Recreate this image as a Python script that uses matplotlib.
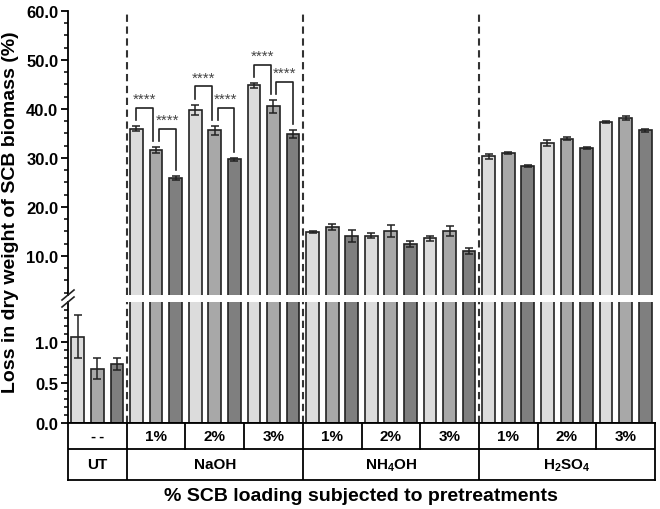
import matplotlib.pyplot as plt
from matplotlib.lines import Line2D
import numpy as np

plt.rcParams['font.family'] = ['Liberation Sans', 'DejaVu Sans']
plt.rcParams['font.weight'] = 'bold'
plt.rcParams['mathtext.fontset'] = 'custom'
plt.rcParams['mathtext.rm'] = 'Liberation Sans:bold'
plt.rcParams['mathtext.default'] = 'rm'

# one entry per group: UT, NaOH 1-3%, NH4OH 1-3%, H2SO4 1-3%
loadings = ["-\u2009-", "1%", "2%", "3%", "1%", "2%", "3%", "1%", "2%", "3%"]
treatments = ["UT", "NaOH", "NH$_4$OH", "H$_2$SO$_4$"]
treatment_size = [1, 3, 3, 3]

light = [1.07, 36.0, 39.8, 44.8, 14.9, 14.1, 13.6, 30.3, 33.1, 37.4]
medium = [0.67, 31.7, 35.6, 40.5, 15.8, 15.0, 15.0, 31.0, 33.9, 38.2]
dark = [0.73, 25.9, 29.7, 34.9, 14.0, 12.4, 11.0, 28.3, 32.0, 35.6]
light_err = [0.27, 0.5, 1.1, 0.5, 0.2, 0.5, 0.5, 0.5, 0.6, 0.2]
medium_err = [0.13, 0.6, 0.9, 1.3, 0.6, 1.2, 1.0, 0.2, 0.3, 0.4]
dark_err = [0.07, 0.4, 0.3, 0.8, 1.2, 0.6, 0.6, 0.2, 0.2, 0.3]

# significance pairs (bar index pairs) within NaOH groups
sig_pairs = [(3, 4), (4, 5), (6, 7), (7, 8), (9, 10), (10, 11)]
sig_label = "****"

colors = ["#dcdcdc", "#a8a8a8", "#7f7f7f"]
series = [light, medium, dark]
errs = [light_err, medium_err, dark_err]

n_groups = len(loadings)
vals = np.array(series).T.flatten()
errors = np.array(errs).T.flatten()
pos = np.arange(n_groups * 3)

fig = plt.figure(figsize=(6.6, 5.1), dpi=100)
L, R = 68 / 660, 655 / 660
W = R - L
ax_top = fig.add_axes([L, 1 - 296 / 510, W, (296 - 12) / 510])
ax_bot = fig.add_axes([L, 1 - 424 / 510, W, (424 - 303) / 510])
ax_tab = fig.add_axes([L, 1 - 481 / 510, W, (481 - 424) / 510])

for ax in (ax_top, ax_bot):
    for k in range(3):
        p = np.arange(n_groups) * 3 + k
        ax.bar(p, series[k], width=0.65, color=colors[k], edgecolor="#222222",
               linewidth=1.2, zorder=2)
        ax.errorbar(p, series[k], yerr=errs[k], fmt="none", ecolor="#222222",
                    elinewidth=1.1, capsize=3, capthick=1.1, zorder=3)
    for xd in np.cumsum(treatment_size)[:-1] * 3 - 0.5:
        ax.axvline(xd, color="#333333", linestyle=(0, (3.5, 2.2)), linewidth=1.5, zorder=4)
    ax.set_xlim(-0.5, n_groups * 3 - 0.5)
    ax.set_xticks([])
    ax.spines['top'].set_visible(False)
    ax.spines['right'].set_visible(False)
    ax.spines['left'].set_linewidth(1.3)
    ax.spines['bottom'].set_linewidth(1.3)
    ax.tick_params(axis='y', which='major', length=5, width=1.3, labelsize=12, pad=2)
    ax.tick_params(axis='y', which='minor', length=3, width=1.1)

ax_top.spines['bottom'].set_visible(False)
ax_top.set_ylim(2, 60)
ax_top.set_yticks(np.arange(10, 61, 10))
ax_top.set_yticks(np.arange(2.5, 60, 2.5), minor=True)
ax_top.set_yticklabels([f"{t:.1f}" for t in np.arange(10, 61, 10)])

ax_bot.set_ylim(0, 1.5)
ax_bot.set_yticks([0, 0.5, 1.0])
ax_bot.set_yticks(np.arange(0.1, 1.45, 0.1), minor=True)
ax_bot.set_yticklabels(["0.0", "0.5", "1.0"])

# significance brackets
for i, j in sig_pairs:
    y1 = vals[i] + errors[i] + 1.2
    y2 = vals[j] + errors[j] + 1.2
    h = max(y1, y2) + 2.5
    xi = pos[i] + (0.15 if (i % 3) == 1 else 0)
    xj = pos[j] - (0.15 if (j % 3) == 1 else 0)
    ax_top.plot([xi, xi, xj, xj], [y1, h, h, y2], color="#222222", linewidth=1.2, zorder=5)
    ax_top.text((xi + xj) / 2, h + 1.0, sig_label, ha='center', va='baseline',
                fontsize=11, fontweight='normal', color="#444444")

# axis break marks
for yb in (296, 303):
    yf = 1 - yb / 510
    fig.add_artist(Line2D([L - 6 / 660, L + 6 / 660], [yf - 5 / 510, yf + 5 / 510],
                          color="#222222", linewidth=1.2))

# table under the axis
ax_tab.set_xlim(-0.5, n_groups * 3 - 0.5)
ax_tab.set_ylim(0, 1)
ax_tab.set_xticks([])
ax_tab.set_yticks([])
for s in ax_tab.spines.values():
    s.set_linewidth(1.3)
mid = 31 / 57
ax_tab.axhline(mid, color="black", linewidth=1.3)
for g in range(1, n_groups):
    ax_tab.plot([g * 3 - 0.5] * 2, [mid, 1], color="black", linewidth=1.3)
for xd in np.cumsum(treatment_size)[:-1] * 3 - 0.5:
    ax_tab.plot([xd] * 2, [0, mid], color="black", linewidth=1.3)
for g, lab in enumerate(loadings):
    ax_tab.text(g * 3 + 1, (1 + mid) / 2, lab, ha='center', va='center', fontsize=11)
starts = np.concatenate([[0], np.cumsum(treatment_size)[:-1]])
for s, n, lab in zip(starts, treatment_size, treatments):
    ax_tab.text((s + n / 2) * 3 - 0.5, mid / 2, lab, ha='center', va='center', fontsize=11)

fig.text(11 / 660, 1 - 212 / 510, "Loss in dry weight of SCB biomass (%)",
         rotation=90, ha='center', va='center', fontsize=14)
fig.text(361 / 660, 1 - 497 / 510, "% SCB loading subjected to pretreatments",
         ha='center', va='center', fontsize=14)

fig.savefig("out.png", dpi=100)
